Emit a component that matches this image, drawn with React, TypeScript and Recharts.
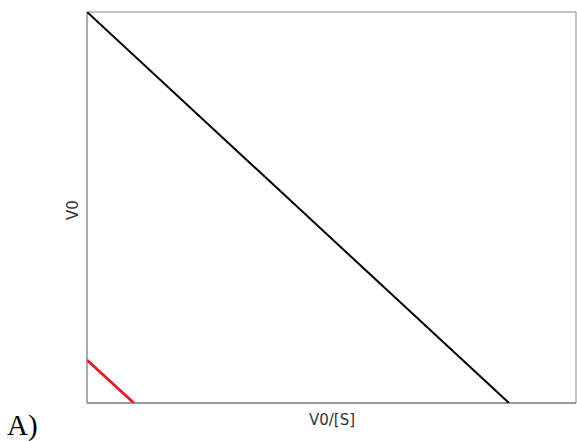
import { LineChart, Line, XAxis, YAxis, ReferenceLine } from 'recharts'

// V0 vs V0/[S] (Eadie-Hofstee style), normalised 0..100 on both axes
const blackLine = [
  { x: 0, y: 100 },
  { x: 86.3, y: 0 },
]
const redLine = [
  { x: 0, y: 11 },
  { x: 9.6, y: 0 },
]
const xLabel = 'V0/[S]'
const yLabel = 'V0'
const panelLabel = 'A)'

export default function App() {
  return (
    <div style={{ position: 'absolute', left: 0, top: 0, width: 577, height: 441, background: '#fff' }}>
      <LineChart width={577} height={441} margin={{ top: 12, right: 1, bottom: 38, left: 87 }}>
        <XAxis type="number" dataKey="x" domain={[0, 100]} hide allowDataOverflow />
        <YAxis type="number" dataKey="y" domain={[0, 100]} hide allowDataOverflow />
        <ReferenceLine x={0} stroke="#aaa" strokeWidth={2} />
        <ReferenceLine x={100} stroke="#888" strokeWidth={1} />
        <ReferenceLine y={100} stroke="#888" strokeWidth={1} />
        <ReferenceLine y={0} stroke="#777" strokeWidth={1.5} />
        <Line
          data={blackLine}
          dataKey="y"
          stroke="#000"
          strokeWidth={2}
          dot={false}
          isAnimationActive={false}
        />
        <Line
          data={redLine}
          dataKey="y"
          stroke="#d9252c"
          strokeWidth={3}
          dot={false}
          isAnimationActive={false}
        />
        <text x={332} y={425} textAnchor="middle" fontFamily="DejaVu Sans" fontSize={15} fill="#333">
          {xLabel}
        </text>
        <text
          x={78}
          y={210}
          textAnchor="middle"
          fontFamily="DejaVu Sans"
          fontSize={15}
          fill="#333"
          transform="rotate(-90 78 210)"
        >
          {yLabel}
        </text>
        <text x={7} y={435} fontFamily="Liberation Serif" fontSize={29} fill="#000">
          {panelLabel}
        </text>
      </LineChart>
    </div>
  )
}
